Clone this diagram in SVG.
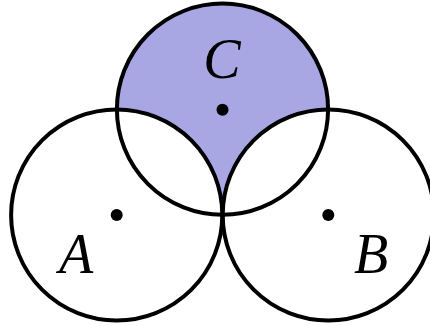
<svg xmlns="http://www.w3.org/2000/svg" width="430" height="326" viewBox="0 0 430 326">
<style>
.c{fill:none;stroke:#000;stroke-width:4}
.d{fill:#000}
.l{font-family:"Liberation Serif","DejaVu Serif",serif;font-style:italic;font-size:56px;text-anchor:middle;fill:#000}
</style>
<rect width="430" height="326" fill="#fff"/>
<path id="region" d="M116.7,109.2 A105.6,105.6 0 0 1 328.3,109.2 A105.6,105.6 0 0 0 222.5,215 A105.6,105.6 0 0 0 116.7,109.2 Z" fill="#a9a7e3"/>
<g id="A">
<circle class="c" cx="116.7" cy="215" r="105.6"/>
<circle class="d" cx="116.7" cy="215" r="6"/>
<text class="l" x="76" y="273">A</text>
</g>
<g id="B">
<circle class="c" cx="328.3" cy="215" r="105.6"/>
<circle class="d" cx="328.3" cy="215" r="6"/>
<text class="l" x="371" y="273">B</text>
</g>
<g id="C">
<circle class="c" cx="222.5" cy="109.2" r="105.6"/>
<circle class="d" cx="222.5" cy="109.7" r="6"/>
<text class="l" x="222" y="78">C</text>
</g>
</svg>
